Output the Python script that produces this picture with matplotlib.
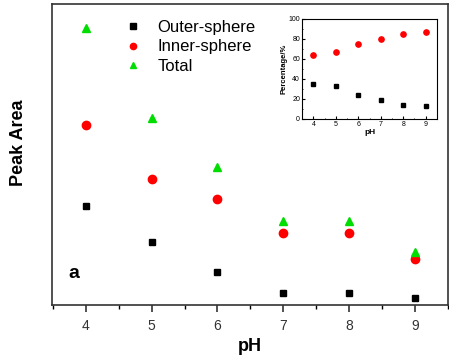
import numpy as np
import matplotlib
matplotlib.use("Agg")
import matplotlib.pyplot as plt
from matplotlib.ticker import MultipleLocator

plt.rcParams['font.family'] = ['Liberation Sans', 'DejaVu Sans']

ph = [4, 5, 6, 7, 8, 9]
outer = [32.9, 20.9, 11.0, 4.0, 4.0, 2.3]
inner = [59.8, 41.9, 35.2, 23.9, 23.9, 15.3]
total = [92.0, 62.1, 45.8, 27.9, 27.9, 17.6]

outer_pct = [35, 33, 24, 19, 14, 12.5]
inner_pct = [64, 67, 75, 80, 85, 86.5]

fig = plt.figure(figsize=(4.49, 3.58), dpi=100)
ax = fig.add_axes([0.116, 0.148, 0.882, 0.841])

ax.plot(ph, outer, 's', color='black', ms=5, label='Outer-sphere')
ax.plot(ph, inner, 'o', color='red', ms=6, label='Inner-sphere')
ax.plot(ph, total, '^', color='#00dd00', ms=6, label='Total')

ax.set_xlim(3.49, 9.5)
ax.set_ylim(0, 100)
ax.set_yticks([])
ax.xaxis.set_major_locator(MultipleLocator(1))
ax.xaxis.set_minor_locator(MultipleLocator(0.5))
ax.tick_params(axis='x', which='major', direction='out', length=5, width=1.2,
               labelsize=10, colors='#333333', pad=5)
ax.tick_params(axis='x', which='minor', direction='out', length=3, width=1)
for s in ax.spines.values():
    s.set_linewidth(1.2)
    s.set_color('#333333')

ax.set_xlabel('pH', fontsize=13, fontweight='bold', labelpad=4)
ax.set_ylabel('Peak Area', fontsize=13, fontweight='bold')
ax.yaxis.set_label_coords(-0.063, 0.54)
ax.text(0.04, 0.09, 'a', transform=ax.transAxes, fontsize=14, fontweight='bold')

ax.legend(loc='upper left', bbox_to_anchor=(0.133, 0.985), frameon=False,
          fontsize=12, handletextpad=0.45, labelspacing=0.26, borderaxespad=0.3,
          markerscale=0.75)

ins = fig.add_axes([0.673, 0.668, 0.300, 0.279])
ins.plot(ph, outer_pct, 's', color='black', ms=3.2)
ins.plot(ph, inner_pct, 'o', color='red', ms=3.8)
ins.set_xlim(3.5, 9.5)
ins.set_ylim(0, 100)
ins.set_xticks(ph)
ins.set_yticks([0, 20, 40, 60, 80, 100])
ins.xaxis.set_minor_locator(MultipleLocator(0.5))
ins.yaxis.set_minor_locator(MultipleLocator(10))
ins.tick_params(which='both', direction='in', labelsize=5, length=2, pad=1.5)
ins.tick_params(which='minor', length=1)
ins.set_xlabel('pH', fontsize=6, fontweight='bold', labelpad=1)
ins.set_ylabel('Percentage/%', fontsize=5.5, fontweight='bold', labelpad=1)
for s in ins.spines.values():
    s.set_linewidth(0.8)

fig.savefig('out.png', dpi=100)
